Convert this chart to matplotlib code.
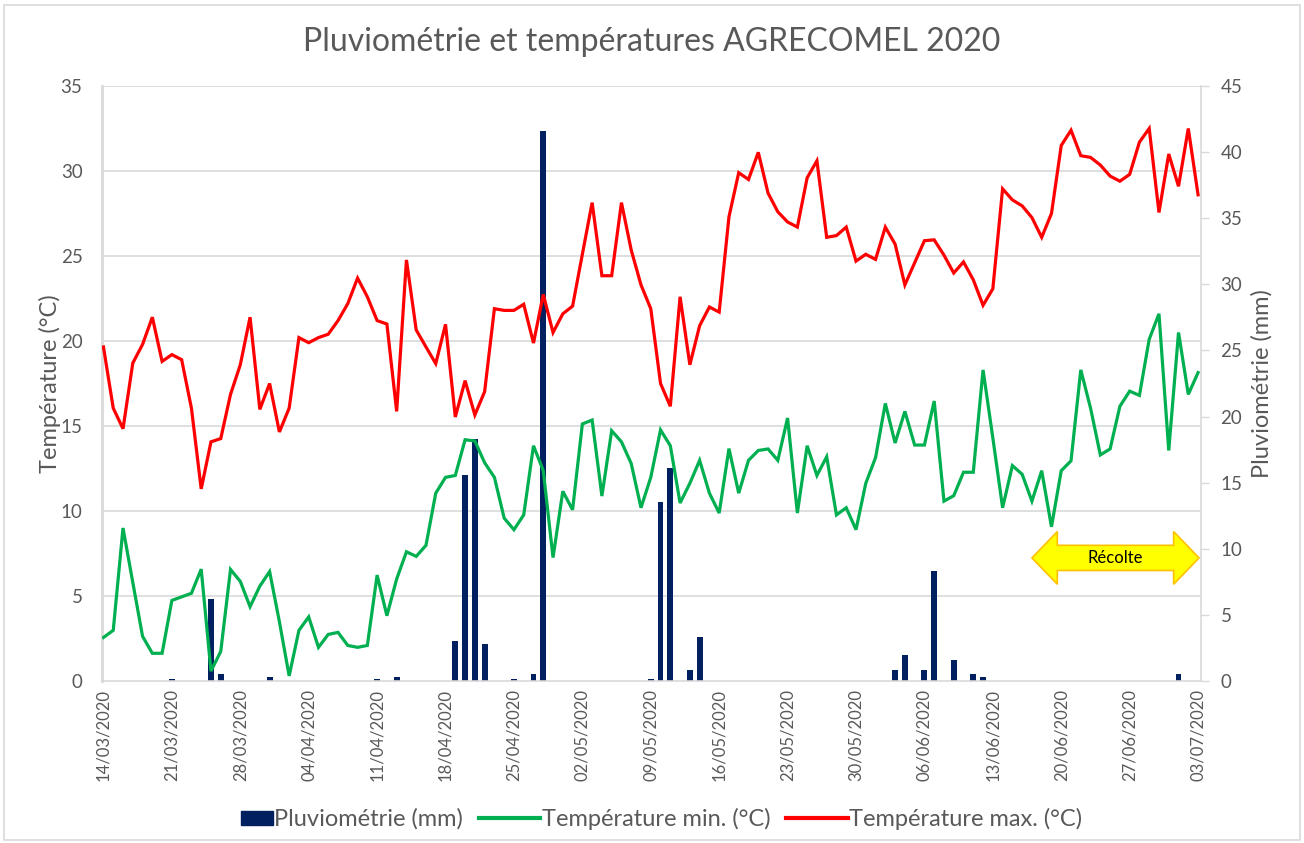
import numpy as np
import matplotlib
matplotlib.use("Agg")
import matplotlib.pyplot as plt
import matplotlib.patches as mpatches
from matplotlib.lines import Line2D
from matplotlib.legend_handler import HandlerPatch
from matplotlib.transforms import blended_transform_factory

plt.rcParams['font.family'] = ['Lato', 'DejaVu Sans']

# daily values, 14/03/2020 -> 03/07/2020 (113 categories)
tmax = [19.65, 16.05, 14.84, 18.7, 19.8, 21.4, 18.8, 19.2, 18.9, 16.05,
        11.3, 14.07, 14.26, 16.86, 18.6, 21.4, 15.98, 17.5, 14.65, 16.05,
        20.2, 19.9, 20.2, 20.4, 21.2, 22.2, 23.7, 22.6, 21.2, 21.0,
        15.86, 24.77, 20.65, 19.65, 18.67, 20.98, 15.53, 17.67, 15.65, 17.02,
        21.9, 21.8, 21.8, 22.16, 19.88, 22.74, 20.5, 21.6, 22.05, 25.1,
        28.14, 23.84, 23.84, 28.14, 25.35, 23.3, 21.9, 17.5, 16.16, 22.6,
        18.6, 20.9, 22.0, 21.7, 27.3, 29.9, 29.5, 31.1, 28.7, 27.6,
        27.0, 26.7, 29.6, 30.6, 26.1, 26.2, 26.7, 24.7, 25.1, 24.8,
        26.7, 25.7, 23.3, 24.6, 25.9, 25.95, 25.05, 24.0, 24.65, 23.6,
        22.1, 23.07, 28.95, 28.3, 27.95, 27.26, 26.1, 27.5, 31.5, 32.4,
        30.9, 30.8, 30.35, 29.7, 29.4, 29.8, 31.7, 32.5, 27.56, 31.0,
        29.1, 32.5, 28.6]

tmin = [2.56, 2.98, 9.0, 5.8, 2.63, 1.63, 1.63, 4.74, 4.95, 5.16,
        6.58, 0.58, 1.74, 6.56, 5.86, 4.37, 5.58, 6.44, 3.49, 0.3,
        2.98, 3.77, 1.98, 2.74, 2.86, 2.09, 1.98, 2.09, 6.23, 3.84,
        6.0, 7.6, 7.33, 7.98, 11.05, 11.98, 12.09, 14.19, 14.12, 12.84,
        11.98, 9.58, 8.9, 9.77, 13.84, 12.37, 7.26, 11.16, 10.07, 15.12,
        15.35, 10.88, 14.72, 14.07, 12.79, 10.19, 11.98, 14.77, 13.84, 10.47,
        11.63, 12.98, 11.05, 9.88, 13.67, 11.05, 12.98, 13.56, 13.65, 12.98,
        15.47, 9.88, 13.84, 12.09, 13.19, 9.77, 10.19, 8.9, 11.63, 13.14,
        16.33, 14.0, 15.86, 13.88, 13.88, 16.47, 10.58, 10.9, 12.28, 12.28,
        18.3, 14.3, 10.19, 12.67, 12.16, 10.58, 12.37, 9.07, 12.37, 12.95,
        18.3, 16.05, 13.3, 13.65, 16.16, 17.05, 16.8, 20.1, 21.6, 13.56,
        20.5, 16.86, 18.14]

pluie = [0, 0, 0, 0, 0, 0, 0, 0.15, 0, 0,
         0, 6.2, 0.5, 0, 0, 0, 0, 0.33, 0, 0,
         0, 0, 0, 0, 0, 0, 0, 0, 0.15, 0,
         0.3, 0, 0, 0, 0, 0, 3.0, 15.6, 18.3, 2.8,
         0, 0, 0.13, 0, 0.5, 41.6, 0, 0, 0, 0,
         0, 0, 0, 0, 0, 0, 0.13, 13.5, 16.1, 0,
         0.8, 3.35, 0, 0, 0, 0, 0, 0, 0, 0,
         0, 0, 0, 0, 0, 0, 0, 0, 0, 0,
         0, 0.83, 1.97, 0, 0.83, 8.34, 0, 1.59, 0, 0.53,
         0.33, 0, 0, 0, 0, 0, 0, 0, 0, 0,
         0, 0, 0, 0, 0, 0, 0, 0, 0, 0,
         0.5, 0, 0]

date_labels = ['14/03/2020', '21/03/2020', '28/03/2020', '04/04/2020',
               '11/04/2020', '18/04/2020', '25/04/2020', '02/05/2020',
               '09/05/2020', '16/05/2020', '23/05/2020', '30/05/2020',
               '06/06/2020', '13/06/2020', '20/06/2020', '27/06/2020',
               '03/07/2020']

GREY = '#595959'
GRID = '#D9D9D9'
NAVY = '#002060'
GREEN = '#00B050'
RED = '#FF0000'

x = np.arange(len(tmax))

fig = plt.figure(figsize=(13.04, 8.43), dpi=100)
ax = fig.add_axes([102 / 1304, 1 - 681 / 843, 1099 / 1304, 595 / 843])
ax2 = ax.twinx()

# bars behind the lines
ax.set_zorder(2)
ax.patch.set_visible(False)
ax2.set_zorder(1)

ax2.bar(x, pluie, width=0.6, color=NAVY, zorder=3)
ax.plot(x, tmin, color=GREEN, lw=2.3, solid_joinstyle='miter', zorder=3)
ax.plot(x, tmax, color=RED, lw=2.3, solid_joinstyle='miter', zorder=4)

ax.set_xlim(-0.15, 112.3)
ax.set_ylim(0, 35)
ax2.set_ylim(0, 45)

# horizontal grid of the temperature axis, drawn under the bars
yt = np.arange(0, 36, 5)
tr = blended_transform_factory(ax2.transAxes, ax.transData)
for t in yt[1:]:
    ax2.plot([0, 1], [t, t], color=GRID, lw=1.2, transform=tr, zorder=0)

ax.set_yticks(yt)
ax.set_xticks(x[::7])
ax.set_xticklabels(date_labels, rotation=90, fontsize=12, color=GREY)
ax.tick_params(axis='x', length=0, pad=6)
ax.tick_params(axis='y', length=0, pad=14, labelsize=13.5, labelcolor=GREY)

ax2.set_yticks(np.arange(0, 46, 5))
ax2.tick_params(axis='y', length=6, width=1, color=GRID, pad=8,
                labelsize=13.5, labelcolor=GREY)

for a in (ax, ax2):
    a.spines['top'].set_visible(False)
    for s in ('left', 'right', 'bottom'):
        a.spines[s].set_color(GRID)
ax.spines['left'].set_linewidth(2)
ax.spines['bottom'].set_linewidth(1.2)
ax2.spines['left'].set_visible(False)
ax2.spines['bottom'].set_visible(False)
ax.spines['right'].set_visible(False)
ax2.spines['right'].set_linewidth(1.2)

ax.set_ylabel('Température (°C)', fontsize=17, color=GREY, labelpad=0)
ax2.set_ylabel('Pluviométrie (mm)', fontsize=17, color=GREY, labelpad=6,
               rotation=90)

fig.text(0.5, 1 - 42 / 843, 'Pluviométrie et températures AGRECOMEL 2020',
         ha='center', va='center', fontsize=23, color=GREY)

# "Récolte" double arrow
arr_x0, arr_x1 = 95.0, 112.1
arr_head = 2.6
arr_y, arr_body, arr_half = 7.24, 0.74, 1.55
arrow_pts = [(arr_x0, arr_y),
             (arr_x0 + arr_head, arr_y + arr_half),
             (arr_x0 + arr_head, arr_y + arr_body),
             (arr_x1 - arr_head, arr_y + arr_body),
             (arr_x1 - arr_head, arr_y + arr_half),
             (arr_x1, arr_y),
             (arr_x1 - arr_head, arr_y - arr_half),
             (arr_x1 - arr_head, arr_y - arr_body),
             (arr_x0 + arr_head, arr_y - arr_body),
             (arr_x0 + arr_head, arr_y - arr_half)]
ax.add_patch(mpatches.Polygon(arrow_pts, closed=True, facecolor='#FFFF00',
                              edgecolor='#FFC000', lw=1.2, zorder=5,
                              clip_on=False))
ax.text((arr_x0 + arr_x1) / 2, arr_y, 'Récolte', ha='center', va='center',
        fontsize=12, color='black', zorder=6)


def box_handle(legend, orig_handle, xdescent, ydescent, width, height, fontsize):
    return mpatches.Rectangle((0.48 * width - xdescent, -ydescent + 0.08 * height),
                              0.52 * width, 0.85 * height)


handles = [mpatches.Patch(color=NAVY),
           Line2D([], [], color=GREEN, lw=3),
           Line2D([], [], color=RED, lw=3)]
labels = ['Pluviométrie (mm)', 'Température min. (°C)', 'Température max. (°C)']
fig.legend(handles, labels, loc='center', bbox_to_anchor=(0.496, 1 - 819 / 843),
           ncol=3, frameon=False, fontsize=17, handlelength=2.6,
           handletextpad=0.05, columnspacing=0.68,
           labelcolor=GREY,
           handler_map={mpatches.Patch: HandlerPatch(patch_func=box_handle)})

# outer chart border
fig.patches.append(mpatches.Rectangle((0.003, 0.004), 0.994, 0.99,
                                      transform=fig.transFigure, fill=False,
                                      edgecolor=GRID, lw=1.2))

fig.savefig('out.png', dpi=100)
